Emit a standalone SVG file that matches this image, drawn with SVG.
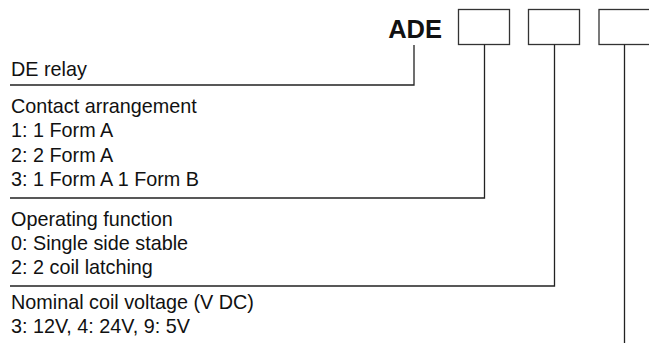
<svg xmlns="http://www.w3.org/2000/svg" width="649" height="343" viewBox="0 0 649 343">
<style>
.t{font-family:"Liberation Sans",Arial,sans-serif;font-size:19.8px;fill:#111}
.h{font-family:"Liberation Sans",Arial,sans-serif;font-size:25.5px;font-weight:bold;fill:#111}
.b{fill:#fff;stroke:#333;stroke-width:1.3}
.c{fill:none;stroke:#222;stroke-width:1.3}
</style>
<rect width="649" height="343" fill="#fff"/>
<g id="title"><text class="h" x="442" y="38" text-anchor="end">ADE</text></g>
<g id="box1"><rect class="b" x="458.5" y="9.5" width="51" height="35"/></g>
<g id="box2"><rect class="b" x="528.5" y="9.5" width="51" height="35"/></g>
<g id="box3"><rect class="b" x="599" y="9.5" width="55" height="35"/></g>
<g id="connectors">
<polyline class="c" points="414,45 414,85 10,85"/>
<polyline class="c" points="484.5,44.5 484.5,198 10,198"/>
<polyline class="c" points="554.5,44.5 554.5,286 10,286"/>
<polyline class="c" points="624.5,44.5 624.5,343"/>
</g>
<g id="de-relay"><text class="t" x="11" y="75.5">DE relay</text></g>
<g id="contact">
<text class="t" x="11" y="113">Contact arrangement</text>
<text class="t" x="11" y="137.3">1: 1 Form A</text>
<text class="t" x="11" y="161.6">2: 2 Form A</text>
<text class="t" x="11" y="186">3: 1 Form A 1 Form B</text>
</g>
<g id="operating">
<text class="t" x="11" y="225.5">Operating function</text>
<text class="t" x="11" y="249.8">0: Single side stable</text>
<text class="t" x="11" y="274">2: 2 coil latching</text>
</g>
<g id="voltage">
<text class="t" x="11" y="309">Nominal coil voltage (V DC)</text>
<text class="t" x="11" y="333.3">3: 12V, 4: 24V, 9: 5V</text>
</g>
</svg>
